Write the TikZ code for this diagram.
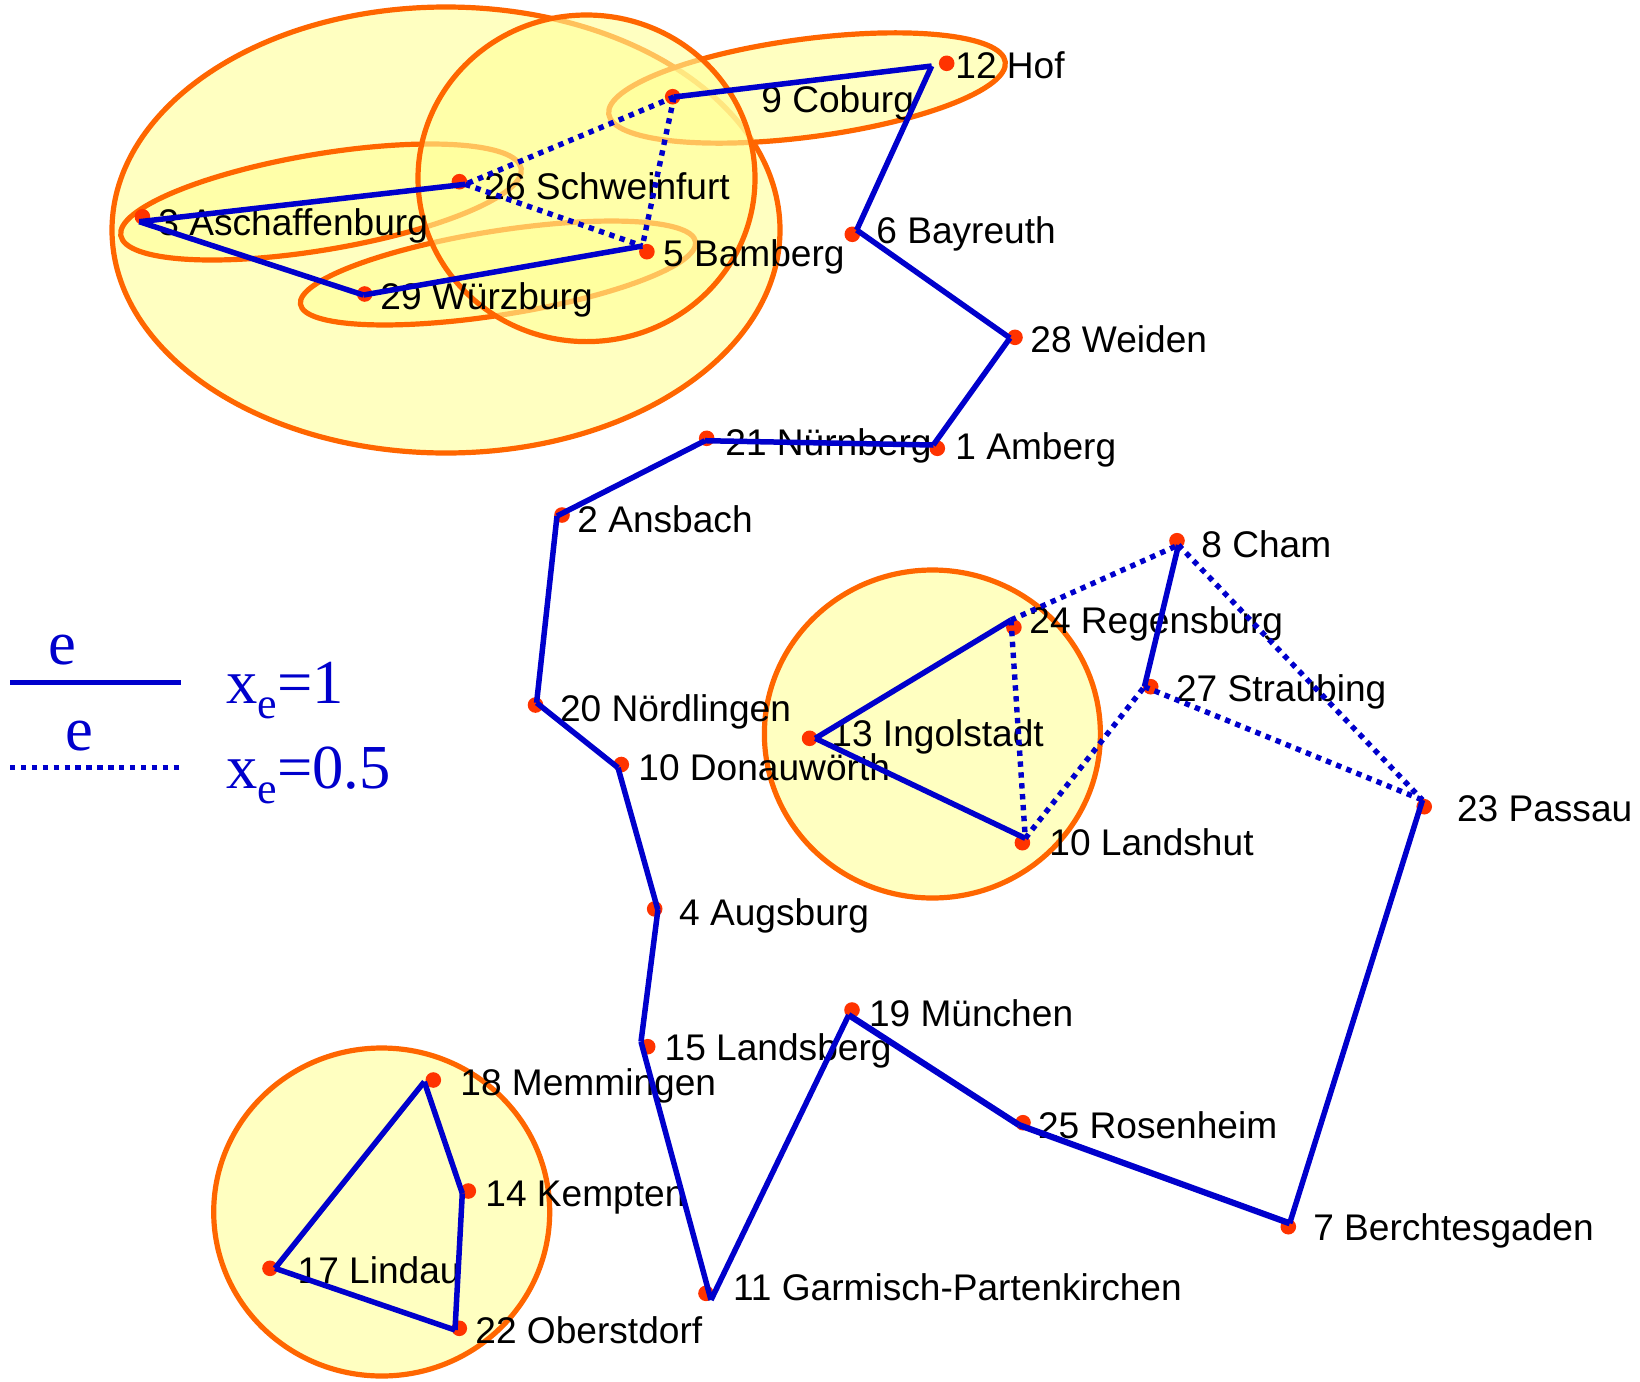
\documentclass[tikz,border=0pt]{standalone}
\usepackage{fontspec}
\setmainfont{Liberation Sans}
\newfontfamily\legserif{Liberation Serif}
\definecolor{eblue}{HTML}{0000CC}
\definecolor{dotred}{HTML}{FF3300}
\definecolor{clorange}{HTML}{FF6600}
\definecolor{clfill}{HTML}{FFFF99}
\begin{document}
\begin{tikzpicture}[x=0.5pt,y=-0.5pt,
  cluster/.style={draw=clorange, line width=2.6pt, fill=clfill, fill opacity=0.6},
  tour/.style={draw=eblue, line width=2.75pt},
  tourthick/.style={draw=eblue, line width=3.1pt},
  half/.style={draw=eblue, line width=2.7pt, dash pattern=on 2.7pt off 2.75pt},
  dot/.style={circle, fill=dotred, inner sep=0pt, minimum size=7.8pt},
  lbl/.style={anchor=base west, inner sep=0pt, text=black, font=\fontsize{18.55}{20}\selectfont},
  legtxt/.style={inner sep=0pt, text=eblue, font=\legserif\fontsize{31.3}{31}\selectfont}
]
\fill[white] (0,0) rectangle (1640,1382);
\useasboundingbox (0,0) rectangle (1640,1382);

% clusters
\path[cluster] (446,230) ellipse [x radius=334, y radius=223];
\path[cluster, shift={(321,202)}, rotate=9.5] (0,0) ellipse [x radius=203, y radius=48];
\path[cluster, shift={(498,273)}, rotate=9] (0,0) ellipse [x radius=200, y radius=42];
\path[cluster, shift={(807,88)}, rotate=7.5] (0,0) ellipse [x radius=200, y radius=49];
\path[cluster] (586.5,178.3) ellipse [x radius=168.5, y radius=163.3];
\path[cluster] (932.4,734) ellipse [x radius=168, y radius=164];
\path[cluster] (381.7,1212) ellipse [x radius=168, y radius=164];

% labels
\node[lbl] (l-hof) at (955,78) {12 Hof};
\node[lbl] (l-cob) at (761,112) {9 Coburg};
\node[lbl] (l-bay) at (876,243) {6 Bayreuth};
\node[lbl] (l-wei) at (1030,352.7) {28 Weiden};
\node[lbl] (l-amb) at (955,459) {1 Amberg};
\node[lbl] (l-nur) at (725,455) {21 Nürnberg};
\node[lbl] (l-ans) at (577,532.6) {2 Ansbach};
\node[lbl] (l-nor) at (559.6,721) {20 Nördlingen};
\node[lbl] (l-don) at (638,780.5) {10 Donauwörth};
\node[lbl] (l-aug) at (678.8,925) {4 Augsburg};
\node[lbl] (l-lsb) at (664.3,1060) {15 Landsberg};
\node[lbl] (l-gar) at (732.6,1300) {11 Garmisch-Partenkirchen};
\node[lbl] (l-mun) at (868.6,1026.7) {19 München};
\node[lbl] (l-ros) at (1037.7,1138.3) {25 Rosenheim};
\node[lbl] (l-ber) at (1312.9,1240) {7 Berchtesgaden};
\node[lbl] (l-pas) at (1456.6,821.7) {23 Passau};
\node[lbl] (l-cha) at (1201,557.3) {8 Cham};
\node[lbl] (l-reg) at (1029,633.3) {24 Regensburg};
\node[lbl] (l-str) at (1175.6,701.7) {27 Straubing};
\node[lbl] (l-ing) at (831,746) {13 Ingolstadt};
\node[lbl] (l-lan) at (1049,855) {10 Landshut};
\node[lbl] (l-mem) at (460,1095) {18 Memmingen};
\node[lbl] (l-kem) at (485,1206.7) {14 Kempten};
\node[lbl] (l-lin) at (297.3,1283.3) {17 Lindau};
\node[lbl] (l-obe) at (475,1343.3) {22 Oberstdorf};
\node[lbl] (l-asc) at (158,235) {3 Aschaffenburg};
\node[lbl] (l-sch) at (484,199) {26 Schweinfurt};
\node[lbl] (l-bam) at (662.7,266.7) {5 Bamberg};
\node[lbl] (l-wur) at (380,309.3) {29 Würzburg};

% city dots
\node[dot] (hof) at (946.7,63.3) {};
\node[dot] (cob) at (672.7,96.7) {};
\node[dot] (bay) at (852.3,234.3) {};
\node[dot] (wei) at (1015,337.3) {};
\node[dot] (amb) at (937.3,448.3) {};
\node[dot] (nur) at (706.7,438.3) {};
\node[dot] (ans) at (562,515) {};
\node[dot] (nor) at (535.5,705) {};
\node[dot] (don) at (621.3,764.5) {};
\node[dot] (aug) at (654.7,908.9) {};
\node[dot] (lsb) at (647.7,1046.7) {};
\node[dot] (gar) at (706,1293.3) {};
\node[dot] (mun) at (852,1010) {};
\node[dot] (ros) at (1023,1122.7) {};
\node[dot] (ber) at (1288.3,1226.7) {};
\node[dot] (pas) at (1424.2,806.7) {};
\node[dot] (cha) at (1177,540.7) {};
\node[dot] (reg) at (1013.9,627.3) {};
\node[dot] (str) at (1150.7,686.7) {};
\node[dot] (ing) at (809.6,738.3) {};
\node[dot] (lan) at (1022.4,842.7) {};
\node[dot] (mem) at (433.3,1080) {};
\node[dot] (kem) at (468.3,1191) {};
\node[dot] (lin) at (270,1268.3) {};
\node[dot] (obe) at (459.3,1328.3) {};
\node[dot] (asc) at (142.4,216.7) {};
\node[dot] (sch) at (459.4,181.7) {};
\node[dot] (bam) at (646.9,251.7) {};
\node[dot] (wur) at (364.7,294) {};

% edge vertices
\coordinate (v-hof) at (931.7,66);
\coordinate (v-cob) at (674,97);
\coordinate (v-bay) at (856.7,230);
\coordinate (v-wei) at (1010,338);
\coordinate (v-amb) at (933.3,445);
\coordinate (v-nur) at (705,440.7);
\coordinate (v-ans) at (557,516);
\coordinate (v-nor) at (536.6,702.8);
\coordinate (v-don) at (618,767.7);
\coordinate (v-aug) at (657.9,910);
\coordinate (v-lsb) at (641,1041.7);
\coordinate (v-gar) at (711,1300);
\coordinate (v-mun) at (848.7,1015);
\coordinate (v-ros) at (1019,1125);
\coordinate (v-ber) at (1289.7,1223.3);
\coordinate (v-pas) at (1422.5,800);
\coordinate (v-cha) at (1178.5,545);
\coordinate (v-reg) at (1011,620);
\coordinate (v-str) at (1144.4,686.7);
\coordinate (v-ing) at (815.3,738.3);
\coordinate (v-lan) at (1025.3,838.3);
\coordinate (v-mem) at (424.3,1081.7);
\coordinate (v-kem) at (462.3,1193.3);
\coordinate (v-lin) at (275,1268.3);
\coordinate (v-obe) at (455,1330);
\coordinate (v-asc) at (139.3,221.7);
\coordinate (v-sch) at (465.2,184.3);
\coordinate (v-bam) at (642.4,246);
\coordinate (v-wur) at (363.4,295);

% solid edges (x_e = 1)
\draw[tour] (v-cob) -- (v-hof);
\draw[tour] (v-hof) -- (v-bay);
\draw[tour] (v-bay) -- (v-wei);
\draw[tour] (v-wei) -- (v-amb);
\draw[tour] (v-amb) -- (v-nur);
\draw[tour] (v-nur) -- (v-ans);
\draw[tour] (v-ans) -- (v-nor);
\draw[tour] (v-nor) -- (v-don);
\draw[tour] (v-don) -- (v-aug);
\draw[tour] (v-aug) -- (v-lsb);
\draw[tour] (v-lsb) -- (v-gar);
\draw[tour] (v-gar) -- (v-mun);
\draw[tourthick] (v-mun) -- (v-ros);
\draw[tourthick] (v-ros) -- (v-ber);
\draw[tour] (v-ber) -- (v-pas);
\draw[tour] (v-cha) -- (v-str);
\draw[tour] (v-ing) -- (v-reg);
\draw[tour] (v-ing) -- (v-lan);
\draw[tour] (v-mem) -- (v-kem);
\draw[tour] (v-kem) -- (v-obe);
\draw[tour] (v-obe) -- (v-lin);
\draw[tour] (v-lin) -- (v-mem);
\draw[tour] (v-sch) -- (v-asc);
\draw[tour] (v-asc) -- (v-wur);
\draw[tour] (v-wur) -- (v-bam);

% dotted edges (x_e = 0.5)
\draw[half] (v-cob) -- (v-sch);
\draw[half] (v-cob) -- (v-bam);
\draw[half] (v-sch) -- (v-bam);
\draw[half] (v-reg) -- (v-cha);
\draw[half] (v-reg) -- (v-lan);
\draw[half] (v-lan) -- (v-str);
\draw[half] (v-str) -- (v-pas);
\draw[half] (v-cha) -- (v-pas);

% legend
\coordinate (ls-a) at (10,682.3);
\coordinate (ls-b) at (181,682.3);
\coordinate (ld-a) at (10,767.7);
\coordinate (ld-b) at (181,767.7);
\node[legtxt, anchor=base] (le1) at (62,664) {e};
\draw[eblue, line width=2.5pt] (ls-a) -- (ls-b);
\node[legtxt, anchor=base] (le2) at (79,750) {e};
\draw[half] (ld-a) -- (ld-b);
\node[legtxt, anchor=base west] (lx1) at (226,703) {x\raisebox{-7.5pt}{\fontsize{22}{22}\selectfont e}=1};
\node[legtxt, anchor=base west] (lx2) at (226,788) {x\raisebox{-7.5pt}{\fontsize{22}{22}\selectfont e}=0.5};
\end{tikzpicture}
\end{document}
